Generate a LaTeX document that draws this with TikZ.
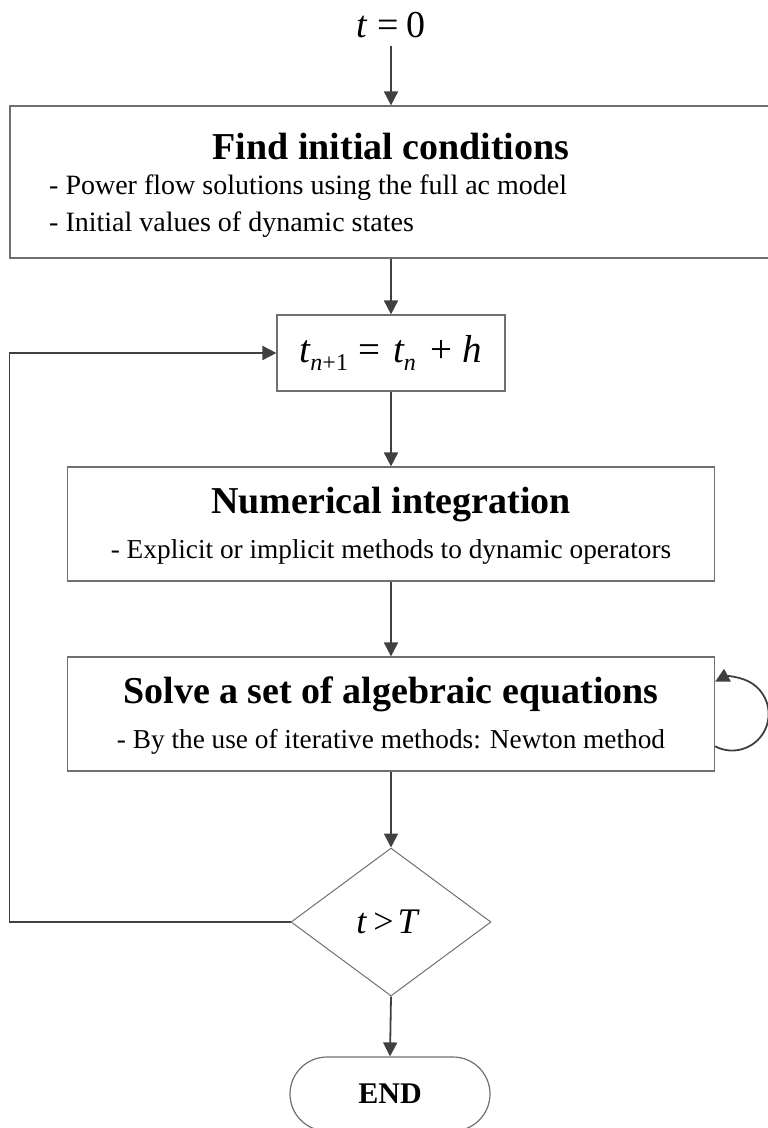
\documentclass[tikz,border=0pt]{standalone}
\usepackage{fontspec}
\setmainfont{Liberation Serif}
\usetikzlibrary{arrows.meta,shapes.geometric,shapes.misc}
\definecolor{linec}{HTML}{404040}
\definecolor{boxc}{HTML}{707070}
\begin{document}
\begin{tikzpicture}[x=1pt,y=-1pt,
  box/.style={draw=boxc,line width=1.2pt,rectangle,inner sep=0pt,fill=white},
  flow/.style={draw=linec,line width=1.8pt,-{Triangle[length=14pt,width=14pt]}},
  ttl/.style={font=\fontsize{38}{40}\selectfont\bfseries,inner sep=0pt,anchor=base},
  subl/.style={font=\fontsize{28}{30}\selectfont,inner sep=0pt,anchor=base west},
  subc/.style={font=\fontsize{27.3}{30}\selectfont,inner sep=0pt,anchor=base},
  mth/.style={font=\fontsize{36}{38}\selectfont,inner sep=0pt},
]
\useasboundingbox (0,0) rectangle (768,1128);

% start label
\node[mth,font=\fontsize{38}{40}\selectfont,anchor=base] (t0) at (391,37) {{\itshape t}\kern11pt=\kern8pt0};

% box 1
\node[box,minimum width=762pt,minimum height=152pt] (b1) at (391,182) {};
\node[ttl] (b1t) at (391,159) {Find initial conditions};
\node[subl] (b1s1) at (49,194) {- Power flow solutions using the full ac model};
\node[subl] (b1s2) at (49,231) {- Initial values of dynamic states};

% box 2
\node[box,mth,font=\fontsize{39}{40}\selectfont,minimum width=228pt,minimum height=76pt] (b2) at (391,353)
  {{\itshape t}\raisebox{-8pt}{\fontsize{24}{24}\selectfont{\itshape n}+1}\kern10pt=\kern13pt{\itshape t}\raisebox{-8pt}{\fontsize{24}{24}\selectfont\itshape n}\kern15pt+\kern10pt{\itshape h}};

% box 3
\node[box,minimum width=647pt,minimum height=114pt] (b3) at (391,524) {};
\node[ttl] (b3t) at (391,513) {Numerical integration};
\node[subc] (b3s) at (391,558) {- Explicit or implicit methods to dynamic operators};

% box 4
\node[box,minimum width=647pt,minimum height=114pt] (b4) at (391,714) {};
\node[ttl] (b4t) at (391,703) {Solve a set of algebraic equations};
\node[subc] (b4s) at (391,748) {- By the use of iterative methods: Newton method};

% decision
\node[diamond,draw=boxc,line width=1pt,inner sep=0pt,minimum width=200pt,minimum height=148pt,mth] (dia) at (391,922) {\kern-8pt{\itshape t}\kern7pt>\kern4pt{\itshape T}};

% end
\node[rounded rectangle,draw=boxc,line width=1.2pt,minimum width=200pt,minimum height=74pt,inner sep=0pt,font=\fontsize{30}{32}\selectfont\bfseries] (end) at (390,1094) {END};

% connectors
\draw[flow] ([yshift=-8pt]t0.south) -- (b1.north);
\draw[flow] (b1.south) -- (b2.north);
\draw[flow] (b2.south) -- (b3.north);
\draw[flow] (b3.south) -- (b4.north);
\draw[flow] (b4.south) -- (dia.north);
\draw[flow] (dia.south) -- (end.north);
\draw[flow] (dia.west) -- ++(-281,0) |- (b2.west);
\draw[flow] ([yshift=-32.3pt]b4.east) arc[start angle=-117.8,end angle=117.8,radius=36.5pt];
\end{tikzpicture}
\end{document}
